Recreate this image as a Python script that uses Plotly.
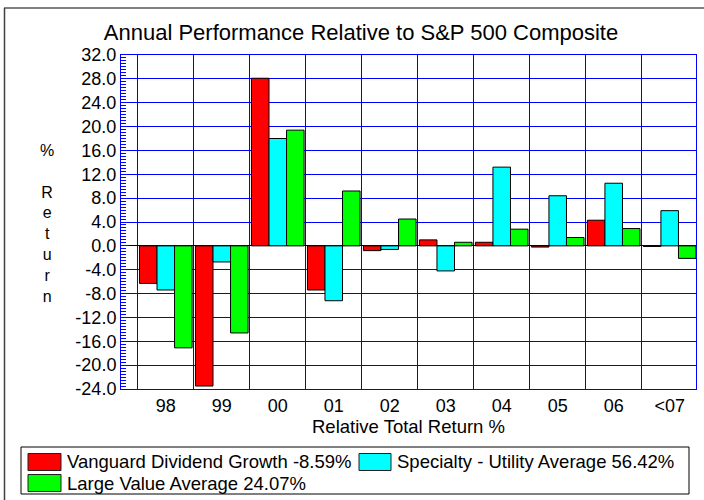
import plotly.graph_objects as go

categories = ["98", "99", "00", "01", "02", "03", "04", "05", "06", "<07"]
vanguard = [-6.3, -23.5, 28.1, -7.4, -0.8, 1.0, 0.6, -0.2, 4.3, -0.1]
utility = [-7.4, -2.7, 18.0, -9.2, -0.6, -4.2, 13.2, 8.4, 10.5, 5.9]
large_value = [-17.1, -14.6, 19.4, 9.2, 4.5, 0.6, 2.8, 1.4, 2.9, -2.1]

series_names = [
    "Vanguard Dividend Growth -8.59%",
    "Specialty - Utility Average 56.42%",
    "Large Value Average 24.07%",
]
series_colors = ["#FF0000", "#00FFFF", "#00FF00"]

y_tick_vals = [-24, -20, -16, -12, -8, -4, 0, 4, 8, 12, 16, 20, 24, 28, 32]
y_tick_text = ["-24.0", "-20.0", "-16.0", "-12.0", "-8.0", "-4.0", "0.0", "4.0",
               "8.0", "12.0", "16.0", "20.0", "24.0", "28.0", "32.0"]

FONT = "Liberation Sans, Arial, Helvetica, sans-serif"
W, H = 704, 500
L, R, T, B = 121, 8, 55, 111
PW, PH = W - L - R, H - T - B


def px_x(p):
    return (p - L) / PW


def px_y(p):
    return (H - B - p) / PH


fig = go.Figure()
for name, vals, col in zip(series_names, [vanguard, utility, large_value], series_colors):
    fig.add_trace(go.Bar(
        x=categories, y=vals, name=name, showlegend=False,
        marker=dict(color=col, line=dict(color="#000000", width=1)),
    ))

fig.update_layout(
    width=W, height=H,
    margin=dict(l=L, r=R, t=T, b=B, autoexpand=False),
    paper_bgcolor="white", plot_bgcolor="white",
    font=dict(family=FONT, color="#000000", size=18),
    barmode="group", bargap=0.06, bargroupgap=0,
    title=dict(text="Annual Performance Relative to S&P 500 Composite",
               font=dict(size=22, family=FONT, color="#000000"),
               x=361 / W, xref="container", xanchor="center",
               y=1 - 32 / H, yref="container", yanchor="middle"),
    showlegend=False,
)

fig.update_xaxes(
    type="category", range=[-0.8, 9.47], tickson="boundaries",
    showgrid=True, gridcolor="#0000FF", gridwidth=1,
    showline=True, linecolor="#0000FF", linewidth=1, mirror=True,
    ticks="", tickfont=dict(size=18),
    title=dict(text="Relative Total Return %", font=dict(size=18.5), standoff=0),
)
fig.update_yaxes(
    range=[-24, 32], tickvals=y_tick_vals, ticktext=y_tick_text,
    showgrid=True, gridcolor="#0000FF", gridwidth=1,
    zeroline=True, zerolinecolor="#000000", zerolinewidth=1,
    showline=True, linecolor="#0000FF", linewidth=1, mirror=True,
    ticks="inside", ticklen=8, tickcolor="#0000FF",
    minor=dict(dtick=0.5, ticks="inside", ticklen=5, tickcolor="#0000FF", showgrid=False),
    tickfont=dict(size=18),
)

# vertical stacked y-axis title
fig.add_annotation(
    text="%<br><br>R<br>e<br>t<br>u<br>r<br>n",
    xref="paper", yref="paper", x=px_x(47), y=px_y(224),
    xanchor="center", yanchor="middle", showarrow=False,
    font=dict(size=16, family=FONT, color="#000000"),
)

# legend box (drawn to match the original's large swatches and tight rows)
fig.add_shape(type="rect", xref="paper", yref="paper",
              x0=px_x(21), x1=px_x(689), y0=px_y(447), y1=px_y(494),
              line=dict(color="#000000", width=1), fillcolor="white")
legend_slots = [(28, 61, 462), (359, 391, 462), (28, 61, 483)]
for (sx0, sx1, cy), name, col in zip(legend_slots, series_names, series_colors):
    fig.add_shape(type="rect", xref="paper", yref="paper",
                  x0=px_x(sx0), x1=px_x(sx1), y0=px_y(cy - 8.5), y1=px_y(cy + 8.5),
                  line=dict(color="#202020", width=1), fillcolor=col)
    fig.add_annotation(text=name, xref="paper", yref="paper",
                       x=px_x(sx1 + 4), y=px_y(cy), xanchor="left", yanchor="middle",
                       showarrow=False, font=dict(size=18.5, family=FONT, color="#000000"))

# panel frame lines
fig.add_shape(type="line", xref="paper", yref="paper",
              x0=px_x(4), x1=px_x(704), y0=px_y(8), y1=px_y(8),
              line=dict(color="#808080", width=2))
fig.add_shape(type="line", xref="paper", yref="paper",
              x0=px_x(4.5), x1=px_x(4.5), y0=px_y(8), y1=px_y(500),
              line=dict(color="#404040", width=1.5))

fig.write_html("out.html", config={"displayModeBar": False},
               post_script="document.body.style.margin='0';")
